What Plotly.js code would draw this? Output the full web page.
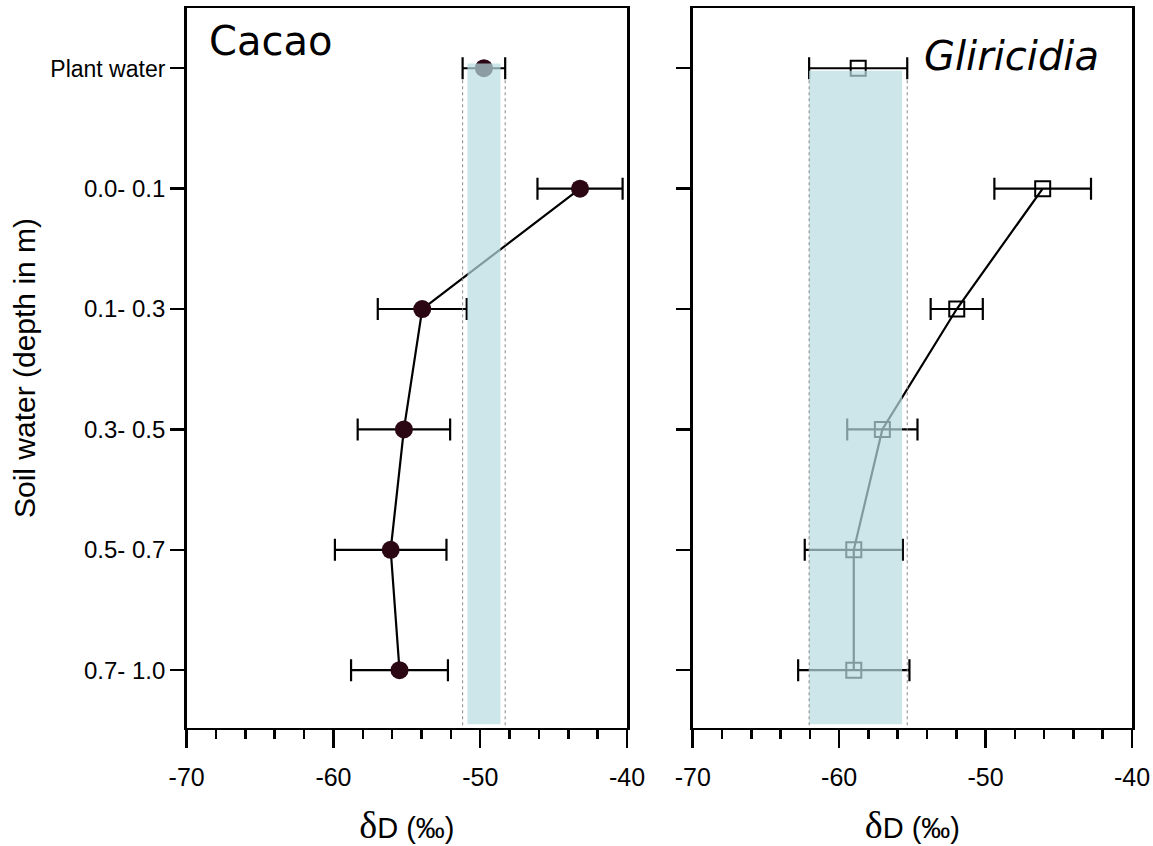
<!DOCTYPE html>
<html>
<head>
<meta charset="utf-8">
<script src="https://cdn.plot.ly/plotly-3.0.1.min.js"></script>
<style>html,body{margin:0;padding:0;background:#fff;}#chart{width:1153px;height:846px;}</style>
</head>
<body>
<div id="chart"></div>
<script>
// Categories (top to bottom)
const plantLabel = ['Plant water'];
const depthLabels = ['0.0- 0.1', '0.1- 0.3', '0.3- 0.5', '0.5- 0.7', '0.7- 1.0'];
const allLabels = plantLabel.concat(depthLabels);
const yTickText = ['<span style="font-size:23px">Plant water</span>'].concat(depthLabels);

// Cacao (left panel)
const cacaoPlant = [-49.75];
const cacaoPlantErr = [1.45];
const cacaoSoil = [-43.2, -53.95, -55.2, -56.1, -55.5];
const cacaoSoilErr = [2.9, 3.03, 3.15, 3.8, 3.3];
const cacaoBand = [-50.87, -48.62];

// Gliricidia (right panel)
const gliPlant = [-58.7];
const gliPlantErr = [3.35];
const gliSoil = [-46.1, -51.97, -57.05, -59.0, -59.0];
const gliSoilErr = [3.3, 1.78, 2.4, 3.35, 3.8];
const gliBand = [-62.06, -55.7];

const xTicks = [-70, -60, -50, -40];
const xTickText = ['-70', '-60', '-50', '-40'];

const tickFont = {family: 'Liberation Sans, Arial, sans-serif', size: 24, color: '#000'};
const xTickFont = {family: 'Liberation Sans, Arial, sans-serif', size: 25, color: '#000'};
const errStyle = {type: 'data', visible: true, color: '#000', thickness: 2.2, width: 11};
const dark = '#2a0713';

const traces = [
  {x: cacaoSoil, y: depthLabels, xaxis: 'x', yaxis: 'y', mode: 'lines+markers',
   line: {color: '#000', width: 2.2},
   marker: {symbol: 'circle', size: 18, color: dark},
   error_x: Object.assign({array: cacaoSoilErr}, errStyle), showlegend: false},
  {x: cacaoPlant, y: plantLabel, xaxis: 'x', yaxis: 'y', mode: 'markers',
   marker: {symbol: 'circle', size: 18, color: dark},
   error_x: Object.assign({array: cacaoPlantErr}, errStyle), showlegend: false},
  {x: gliSoil, y: depthLabels, xaxis: 'x2', yaxis: 'y2', mode: 'lines+markers',
   line: {color: '#000', width: 2.2},
   marker: {symbol: 'square-open', size: 15, color: '#000', line: {width: 2, color: '#000'}},
   error_x: Object.assign({array: gliSoilErr}, errStyle), showlegend: false},
  {x: gliPlant, y: plantLabel, xaxis: 'x2', yaxis: 'y2', mode: 'markers',
   marker: {symbol: 'square-open', size: 15, color: '#000', line: {width: 2, color: '#000'}},
   error_x: Object.assign({array: gliPlantErr}, errStyle), showlegend: false}
];

function xAxis(domain, anchor) {
  return {
    domain: domain, anchor: anchor, range: [-70, -40], tickvals: xTicks, ticktext: xTickText,
    ticks: 'outside', ticklen: 18, tickwidth: 2.5, tickcolor: '#000', ticklabelstandoff: 8,
    minor: {dtick: 2, ticks: 'outside', ticklen: 9, tickwidth: 2.5, tickcolor: '#000'},
    showline: true, linewidth: 2.5, linecolor: '#000', mirror: true,
    showgrid: false, zeroline: false, tickfont: xTickFont,
    title: {text: '<span style="font-family:Liberation Serif, Times New Roman, serif;font-size:38px">δ</span>D (‰)',
            font: {family: 'Liberation Sans, Arial, sans-serif', size: 29, color: '#000'}, standoff: 27}
  };
}
function yAxis(domain, anchor, labels) {
  return {
    domain: domain, anchor: anchor, type: 'category', categoryarray: allLabels,
    tickvals: allLabels, ticktext: yTickText,
    range: [5.48, -0.5], ticks: 'outside', ticklen: 14, tickwidth: 2.5, tickcolor: '#000',
    showline: true, linewidth: 2.5, linecolor: '#000', mirror: true,
    showgrid: false, zeroline: false, showticklabels: labels, tickfont: tickFont
  };
}

const bandFill = 'rgba(182,219,225,0.7)';
function bandShapes(xref, yref, band, plant, err, top) {
  return [
    {type: 'rect', xref: xref, yref: yref, x0: band[0], x1: band[1], y0: top, y1: 5.45,
     fillcolor: bandFill, line: {width: 0}, layer: 'above'},
    {type: 'line', xref: xref, yref: yref, x0: plant - err, x1: plant - err, y0: 0.1, y1: 5.48,
     line: {color: '#888', width: 1, dash: 'dot'}, layer: 'above'},
    {type: 'line', xref: xref, yref: yref, x0: plant + err, x1: plant + err, y0: 0.1, y1: 5.48,
     line: {color: '#888', width: 1, dash: 'dot'}, layer: 'above'}
  ];
}

const layout = {
  width: 1153, height: 846, margin: {l: 0, r: 0, t: 0, b: 0},
  paper_bgcolor: '#fff', plot_bgcolor: '#fff', showlegend: false,
  xaxis: xAxis([0.1619, 0.5438], 'y'),
  yaxis: Object.assign(yAxis([0.1395, 0.9905], 'x', true), {
    title: {text: 'Soil water (depth in m)', font: {family: 'Liberation Sans, Arial, sans-serif', size: 30, color: '#000'}, standoff: 6}
  }),
  xaxis2: xAxis([0.6008, 0.9818], 'y2'),
  yaxis2: yAxis([0.1395, 0.9905], 'x2', false),
  shapes: bandShapes('x', 'y', cacaoBand, cacaoPlant[0], cacaoPlantErr[0], -0.04)
    .concat(bandShapes('x2', 'y2', gliBand, gliPlant[0], gliPlantErr[0], 0.02)),
  annotations: [
    {text: 'Cacao', xref: 'paper', yref: 'paper', x: 0.235, y: 0.951, xanchor: 'center', yanchor: 'middle',
     showarrow: false, font: {family: 'DejaVu Sans, Verdana, sans-serif', size: 40, color: '#000'}},
    {text: '<i>Gliricidia</i>', xref: 'paper', yref: 'paper', x: 0.8773, y: 0.934, xanchor: 'center', yanchor: 'middle',
     showarrow: false, font: {family: 'DejaVu Sans, Verdana, sans-serif', size: 40, color: '#000'}}
  ]
};

Plotly.newPlot('chart', traces, layout, {displayModeBar: false, staticPlot: true});
</script>
</body>
</html>
